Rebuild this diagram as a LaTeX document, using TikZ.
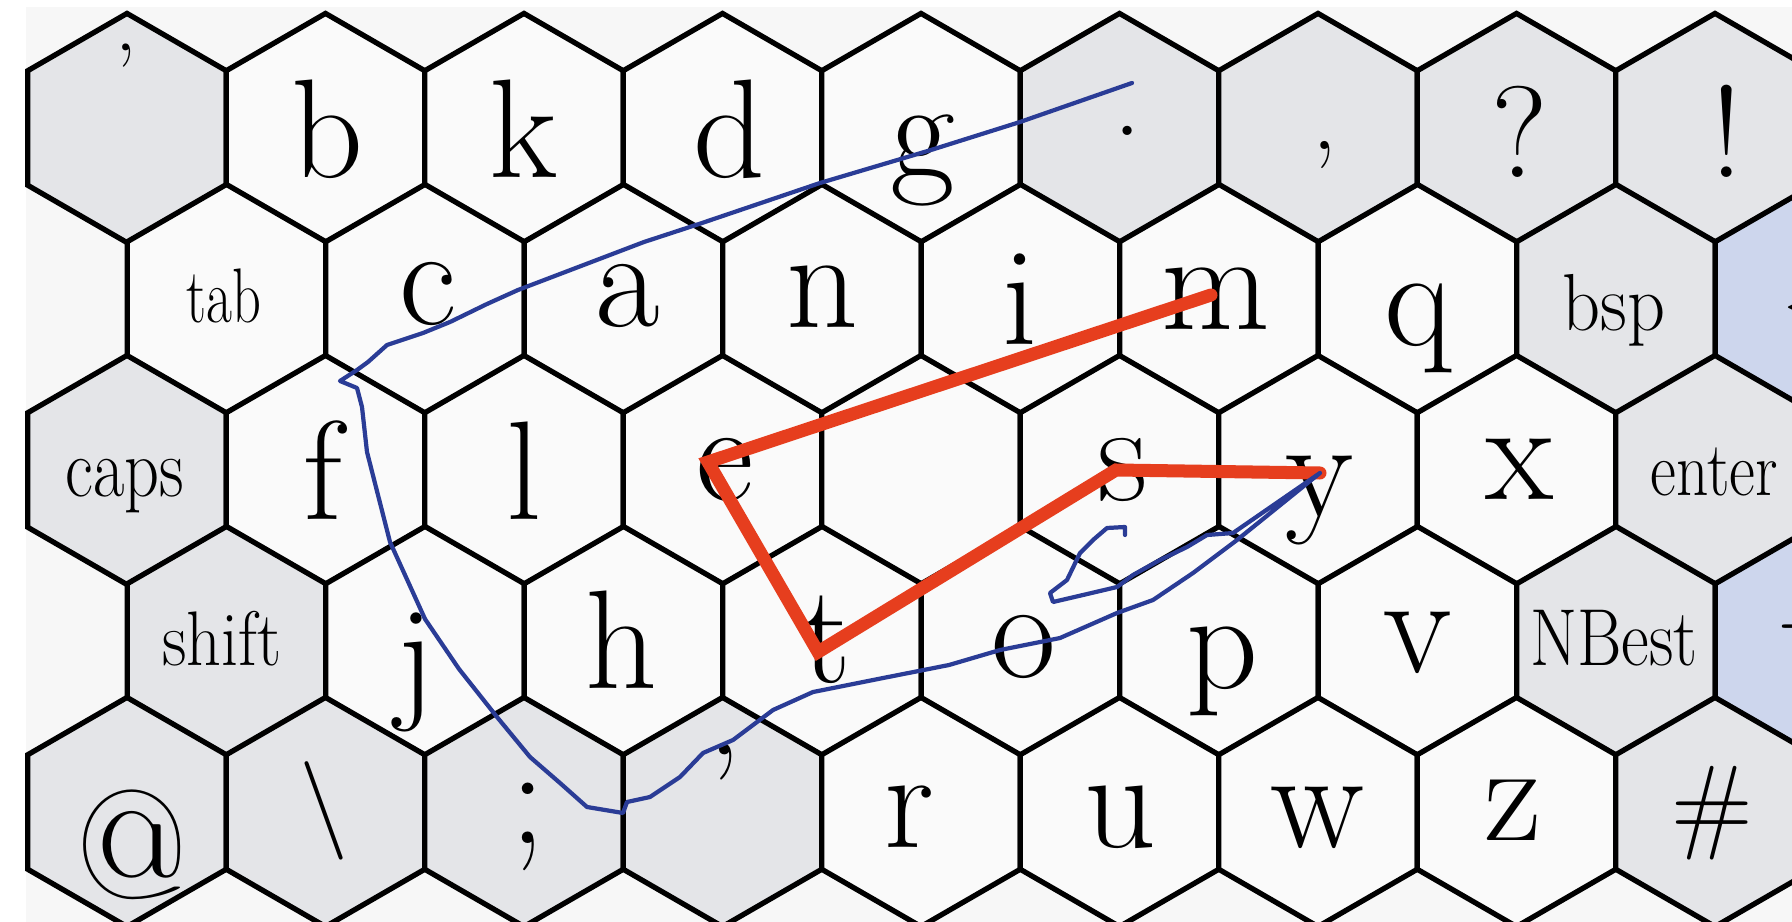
\documentclass[tikz,border=0pt]{standalone}
\usepackage{graphicx}
\usepackage{tikz}
\usetikzlibrary{shapes.geometric}

\definecolor{keywhite}{RGB}{250,250,250}
\definecolor{keygrey}{RGB}{228,229,232}
\definecolor{keyblue}{RGB}{205,214,237}
\definecolor{keybg}{RGB}{247,247,247}
\definecolor{gesturered}{RGB}{230,62,30}
\definecolor{gestureblue}{RGB}{42,60,150}

\begin{document}
\begin{tikzpicture}[x=0.01cm, y=-0.01cm,
    keycap/.style={draw, regular polygon, regular polygon sides=6, shape border rotate=30, minimum size=2.29cm, inner sep=0pt, line width=1.5pt, fill=#1},
    keycap/.default=keywhite,
    letter/.style={font=\fontsize{#1}{#1}\selectfont, inner sep=0pt, anchor=base},
    letter/.default=40,
    trace/.style={line width=#1, line join=round, line cap=round},
]
\clip (0,0) rectangle (1792,922);
\fill[keybg] (26,7) rectangle (1792,922);
% Row 1
\node[keycap=keygrey] (kq1) at (127,128) {};
\node[keycap] (kb) at (325.5,128) {};
\node[keycap] (kk) at (524,128) {};
\node[keycap] (kd) at (722.5,128) {};
\node[keycap] (kg) at (921,128) {};
\node[keycap=keygrey] (kdot) at (1119.5,128) {};
\node[keycap=keygrey] (kcomma) at (1318,128) {};
\node[keycap=keygrey] (kques) at (1516.5,128) {};
\node[keycap=keygrey] (kexcl) at (1715,128) {};
% Row 2
\node[keycap] (ktab) at (226.5,299) {};
\node[keycap] (kc) at (425,299) {};
\node[keycap] (ka) at (623.5,299) {};
\node[keycap] (kn) at (822,299) {};
\node[keycap] (ki) at (1020.5,299) {};
\node[keycap] (km) at (1219,299) {};
\node[keycap] (kq) at (1417.5,299) {};
\node[keycap=keygrey] (kbsp) at (1616,299) {};
\node[keycap=keyblue] (kleft) at (1814.5,299) {};
% Row 3
\node[keycap=keygrey] (kcaps) at (127,470) {};
\node[keycap] (kf) at (325.5,470) {};
\node[keycap] (kl) at (524,470) {};
\node[keycap] (ke) at (722.5,470) {};
\node[keycap] (kblank) at (921,470) {};
\node[keycap] (ks) at (1119.5,470) {};
\node[keycap] (ky) at (1318,470) {};
\node[keycap] (kx) at (1516.5,470) {};
\node[keycap=keygrey] (kenter) at (1715,470) {};
% Row 4
\node[keycap=keygrey] (kshift) at (226.5,641) {};
\node[keycap] (kj) at (425,641) {};
\node[keycap] (kh) at (623.5,641) {};
\node[keycap] (kt) at (822,641) {};
\node[keycap] (ko) at (1020.5,641) {};
\node[keycap] (kp) at (1219,641) {};
\node[keycap] (kv) at (1417.5,641) {};
\node[keycap=keygrey] (knbest) at (1616,641) {};
\node[keycap=keyblue] (kright) at (1814.5,641) {};
% Row 5
\node[keycap=keygrey] (kat) at (127,812) {};
\node[keycap=keygrey] (kbslash) at (325.5,812) {};
\node[keycap=keygrey] (ksemi) at (524,812) {};
\node[keycap=keygrey] (kq2) at (722.5,812) {};
\node[keycap] (kr) at (921,812) {};
\node[keycap] (ku) at (1119.5,812) {};
\node[keycap] (kw) at (1318,812) {};
\node[keycap] (kz) at (1516.5,812) {};
\node[keycap=keygrey] (khash) at (1715,812) {};
% Key labels
\node[letter=24, anchor=north] (lq1) at (126,43) {'};
\node[letter] (lb) at (327,178) {b};
\node[letter] (lk) at (524,178) {k};
\node[letter] (ld) at (729,178) {d};
\node[letter] (lg) at (923,178) {g};
\node[letter=32] (ldot) at (1128,136) {.};
\node[letter=28] (lcomma) at (1325,150) {,};
\node[letter=37] (lques) at (1520,178) {?};
\node[letter=37] (lexcl) at (1727,178) {!};
\node[letter=22] (ltab) at (224,323) {\scalebox{0.73}[1]{tab}};
\node[letter] (lc) at (428,325) {c};
\node[letter] (la) at (628,327) {a};
\node[letter] (ln) at (822,328) {n};
\node[letter] (li) at (1020,345) {i};
\node[letter] (lm) at (1216,330) {m};
\node[letter] (lq) at (1419,346) {q};
\node[letter=23] (lbsp) at (1614,331) {\scalebox{0.92}[1]{bsp}};
\node[letter, anchor=west] (lleft) at (1783,313) {$\leftarrow$};
\node[letter=24] (lcaps) at (125,496) {\scalebox{0.81}[1]{caps}};
\node[letter] (lf) at (323,519) {f};
\node[letter] (ll) at (524,519) {l};
\node[letter] (le) at (725,500) {e};
\node[letter] (ls) at (1123,500) {s};
\node[letter] (ly) at (1320,516) {y};
\node[letter] (lx) at (1520,499) {x};
\node[letter=22] (lenter) at (1714,495) {\scalebox{0.82}[1]{enter}};
\node[letter=22] (lshift) at (222,665) {\scalebox{0.88}[1]{shift}};
\node[letter] (lj) at (416,703) {j};
\node[letter] (lh) at (621,688) {h};
\node[letter] (lt) at (826,682) {t};
\node[letter] (lo) at (1024,677) {o};
\node[letter] (lp) at (1222,688) {p};
\node[letter] (lv) at (1418,672) {v};
\node[letter=23] (lnbest) at (1614,665) {\scalebox{0.84}[1]{NBest}};
\node[letter, anchor=west] (lright) at (1777,632) {$\rightarrow$};
\node[letter=44, anchor=center] (lat) at (132,845) {@};
\node[letter=28, anchor=center] (lbslash) at (324,811) {\textbackslash};
\node[letter] (lsemi) at (528,843) {;};
\node[letter=37, anchor=north] (lq2) at (725,743) {'};
\node[letter] (lr) at (909,847) {r};
\node[letter] (lu) at (1120,847) {u};
\node[letter] (lw) at (1317,847) {w};
\node[letter] (lz) at (1513,840) {z};
\node[letter=30, anchor=center] (lhash) at (1712,813) {\#};
% Gesture traces
\coordinate (pm) at (1211,295);
\coordinate (pe) at (708,462);
\coordinate (pt) at (818,652);
\coordinate (ps) at (1116,470);
\coordinate (py) at (1320,473);
\draw[trace=3.7pt, gesturered, line join=miter] (pm) -- (pe) -- (pt) -- (ps) -- (py);
\draw[trace=1.2pt, gestureblue] (1132,83) -- (1020,122) -- (931,150) -- (820,183) -- (702,223)
  -- (644,242) -- (518,290) -- (487,304) -- (450,322) -- (423,333) -- (387,345) -- (368,362)
  -- (357,370) -- (340,381) -- (357,388) -- (362,407) -- (367,452) -- (390,542) -- (425,619)
  -- (459,669) -- (497,717) -- (530,757) -- (560,783) -- (587,807) -- (623,813) -- (627,802)
  -- (650,797) -- (680,777) -- (703,753) -- (733,740) -- (773,710) -- (813,692) -- (873,680)
  -- (949,665) -- (1000,650) -- (1060,638) -- (1117,613) -- (1153,600) -- (1193,573)
  -- (1237,540) -- (1320,473) -- (1233,533) -- (1207,535) -- (1187,547) -- (1160,560)
  -- (1133,575) -- (1117,587) -- (1083,595) -- (1053,602) -- (1050,593) -- (1067,580)
  -- (1080,553) -- (1093,540) -- (1107,528) -- (1125,527) -- (1125,535);
\end{tikzpicture}
\end{document}
